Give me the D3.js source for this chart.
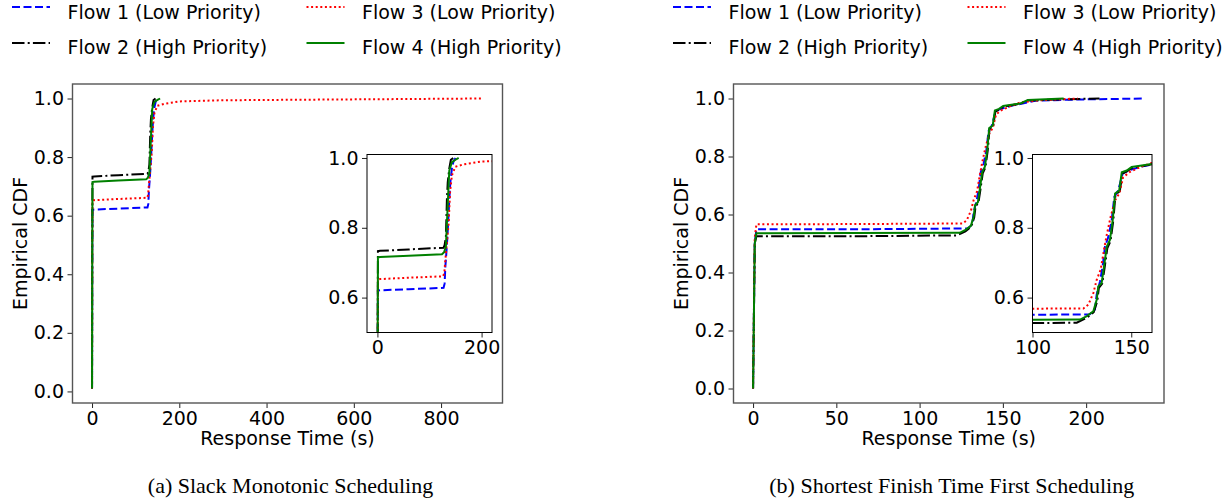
<!DOCTYPE html>
<html>
<head>
<meta charset="utf-8">
<script src="https://cdn.jsdelivr.net/npm/d3@7"></script>
<style>
  body { margin: 0; background: #fff; }
  svg text { font-family: "DejaVu Sans", sans-serif; font-size: 19px; fill: #000; }
  svg text.caption { font-family: "Liberation Serif", "Times New Roman", serif; font-size: 22px; }
</style>
</head>
<body>
<svg width="1230" height="501"></svg>
<script>
// legend labels and line styles, in plotting order
const flowNames = ["Flow 1 (Low Priority)", "Flow 2 (High Priority)", "Flow 3 (Low Priority)", "Flow 4 (High Priority)"];
const flowColors = ["#0000ff", "#000000", "#ff0000", "#008000"];
const flowDash = ["8,3.5", "12.5,3.2,2,3.2", "2,2.6", null];

// (a) Slack Monotonic Scheduling: [response time (s), empirical CDF]
const smFlow1 = [[0, 0.01], [0.5, 0.45], [1, 0.62], [5, 0.621], [60, 0.624], [127, 0.628], [129, 0.64], [130.5, 0.69],
  [132, 0.72], [134, 0.765], [136, 0.82], [138, 0.88], [140, 0.93], [143, 0.97], [146, 0.99], [150, 1.0]];
const smFlow2 = [[0, 0.01], [0.5, 0.5], [1, 0.733], [5, 0.734], [60, 0.738], [127, 0.743], [129, 0.75], [131.5, 0.775],
  [133.4, 0.88], [135, 0.93], [138, 0.97], [141, 0.995], [145.5, 1.0]];
const smFlow3 = [[0, 0.01], [0.5, 0.48], [1, 0.652], [5, 0.653], [60, 0.657], [126, 0.661], [128.5, 0.67], [130, 0.7],
  [133, 0.75], [136.6, 0.81], [139.6, 0.905], [143, 0.95], [149.5, 0.975], [166, 0.982], [200, 0.99], [300, 0.994],
  [500, 0.996], [700, 0.998], [896, 1.0]];
const smFlow4 = [[0, 0.01], [0.5, 0.5], [1, 0.715], [5, 0.716], [60, 0.72], [124, 0.724], [128, 0.73], [131.5, 0.746],
  [133.4, 0.813], [136, 0.9], [138, 0.964], [143, 0.988], [150, 0.995], [156, 1.0]];

// (b) Shortest Finish Time First Scheduling
const sfFlow1 = [[0, 0], [1, 0.5], [2, 0.549], [60, 0.549], [129, 0.552], [131.6, 0.566], [132.5, 0.609], [134.2, 0.647],
  [135.5, 0.689], [136.7, 0.746], [138.4, 0.774], [140.1, 0.822], [141.4, 0.888], [143.4, 0.907], [145.6, 0.955],
  [148.5, 0.964], [155, 0.975], [160.5, 0.981], [170, 0.993], [200, 0.997], [235, 1.0]];
const sfFlow2 = [[0, 0], [1, 0.5], [2, 0.525], [60, 0.525], [122.4, 0.528], [127.5, 0.542], [131, 0.558], [132.8, 0.59],
  [133.6, 0.628], [135.3, 0.64], [136.5, 0.685], [137.9, 0.742], [139.5, 0.762], [140.9, 0.82], [142, 0.895],
  [144.2, 0.905], [145.5, 0.955], [148, 0.962], [150.5, 0.972], [160.5, 0.982], [165, 0.993], [185, 0.997], [208, 1.0]];
const sfFlow3 = [[0, 0], [1, 0.52], [2, 0.566], [60, 0.567], [125.8, 0.569], [128.3, 0.58], [130.8, 0.613], [132.5, 0.651],
  [134.5, 0.68], [136.2, 0.737], [137.6, 0.78], [139.5, 0.83], [141.8, 0.879], [143.9, 0.898], [145.9, 0.945],
  [149.3, 0.96], [155, 0.975], [160.5, 0.986], [170, 0.993], [180, 0.996], [195, 1.0]];
const sfFlow4 = [[0, 0], [1, 0.5], [2, 0.535], [60, 0.536], [124.1, 0.537], [127.5, 0.547], [130.8, 0.561], [132.5, 0.594],
  [133.3, 0.632], [135, 0.642], [136.2, 0.689], [137.6, 0.746], [139.2, 0.765], [140.6, 0.822], [141.8, 0.898],
  [143.9, 0.907], [145.2, 0.959], [147.7, 0.964], [150.2, 0.974], [160.5, 0.983], [165, 0.995], [186.5, 1.0]];

// ticks
const yTicks = [0, 0.2, 0.4, 0.6, 0.8, 1.0];
const insetYTicks = [0.6, 0.8, 1.0];
const smXTicks = [0, 200, 400, 600, 800];
const smInsetXTicks = [0, 200];
const sfXTicks = [0, 50, 100, 150, 200];
const sfInsetXTicks = [100, 150];

const svg = d3.select("svg");

// matplotlib style 5% auto margins
const padded = ext => {
  const m = (ext[1] - ext[0]) * 0.05;
  return [ext[0] - m, ext[1] + m];
};

let clipId = 0;

function drawAxes(box, xDom, yDom, series, xTicks, yTicksArr, frame) {
  const x = d3.scaleLinear().domain(xDom).range([box.x0, box.x1]);
  const y = d3.scaleLinear().domain(yDom).range([box.y1, box.y0]);
  const g = svg.append("g");

  g.append("rect")
    .attr("x", box.x0).attr("y", box.y0)
    .attr("width", box.x1 - box.x0).attr("height", box.y1 - box.y0)
    .attr("fill", "#fff");

  const id = "clip" + (clipId++);
  g.append("clipPath").attr("id", id)
    .append("rect")
    .attr("x", box.x0).attr("y", box.y0)
    .attr("width", box.x1 - box.x0).attr("height", box.y1 - box.y0);

  const line = d3.line().x(d => x(d[0])).y(d => y(d[1]));

  g.append("g").attr("clip-path", "url(#" + id + ")")
    .selectAll("path")
    .data(series)
    .join("path")
    .attr("d", line)
    .attr("fill", "none")
    .attr("stroke", (d, i) => flowColors[i])
    .attr("stroke-width", 2)
    .attr("stroke-dasharray", (d, i) => flowDash[i]);

  const xAxis = g.append("g")
    .attr("transform", "translate(0," + box.y1 + ")")
    .call(d3.axisBottom(x).tickValues(xTicks).tickFormat(d3.format("d")).tickSize(5).tickPadding(3.5));
  const yAxis = g.append("g")
    .attr("transform", "translate(" + box.x0 + ",0)")
    .call(d3.axisLeft(y).tickValues(yTicksArr).tickFormat(d3.format(".1f")).tickSize(5).tickPadding(3.5));
  [xAxis, yAxis].forEach(a => {
    a.select(".domain").remove();
    a.selectAll(".tick line").attr("stroke", "#222").attr("stroke-width", 1);
    a.selectAll("text").attr("font-size", null).attr("font-family", null).attr("fill", "#000");
  });

  g.append("rect")
    .attr("x", box.x0).attr("y", box.y0)
    .attr("width", box.x1 - box.x0).attr("height", box.y1 - box.y0)
    .attr("fill", "none")
    .attr("stroke", frame.color)
    .attr("stroke-width", frame.width);
}

function drawPanel(p) {
  const allPts = p.series.flat();
  const xDom = padded(d3.extent(allPts, d => d[0]));
  const yDom = padded(d3.extent(allPts, d => d[1]));

  drawAxes(p.main, xDom, yDom, p.series, p.xTicks, yTicks, { color: "#555", width: 1.4 });

  const cx = (p.main.x0 + p.main.x1) / 2;

  svg.append("text")
    .attr("x", cx).attr("y", 445)
    .attr("text-anchor", "middle")
    .text("Response Time (s)");

  svg.append("text")
    .attr("transform", "translate(" + (p.main.x0 - 46) + "," + ((p.main.y0 + p.main.y1) / 2) + ") rotate(-90)")
    .attr("text-anchor", "middle")
    .text("Empirical CDF");

  svg.append("text")
    .attr("class", "caption")
    .attr("x", cx + 3).attr("y", 493)
    .attr("text-anchor", "middle")
    .text(p.caption);

  drawAxes(p.inset, p.insetX, [0.5, 1.01], p.series, p.insetXTicks, insetYTicks, { color: "#000", width: 1 });

  // legend, two columns above the axes
  const lg = svg.append("g");
  flowNames.forEach((name, i) => {
    const col = Math.floor(i / 2), row = i % 2;
    const lx = p.main.x0 - 60.5 + col * 294.5;
    const ly = row === 0 ? 7 : 43;
    lg.append("line")
      .attr("x1", lx).attr("x2", lx + 38)
      .attr("y1", ly).attr("y2", ly)
      .attr("stroke", flowColors[i])
      .attr("stroke-width", 2)
      .attr("stroke-dasharray", flowDash[i]);
    lg.append("text")
      .attr("x", lx + 55.5)
      .attr("y", row === 0 ? 18.5 : 53.5)
      .text(name);
  });
}

drawPanel({
  series: [smFlow1, smFlow2, smFlow3, smFlow4],
  main: { x0: 72.5, x1: 502.5, y0: 84, y1: 403 },
  xTicks: smXTicks,
  inset: { x0: 367, x1: 492, y0: 154.5, y1: 332.5 },
  insetX: [-20, 220],
  insetXTicks: smInsetXTicks,
  caption: "(a) Slack Monotonic Scheduling"
});

drawPanel({
  series: [sfFlow1, sfFlow2, sfFlow3, sfFlow4],
  main: { x0: 733.5, x1: 1164, y0: 84, y1: 403 },
  xTicks: sfXTicks,
  inset: { x0: 1032.5, x1: 1152, y0: 154.5, y1: 332.5 },
  insetX: [100, 160.5],
  insetXTicks: sfInsetXTicks,
  caption: "(b) Shortest Finish Time First Scheduling"
});
</script>
</body>
</html>
